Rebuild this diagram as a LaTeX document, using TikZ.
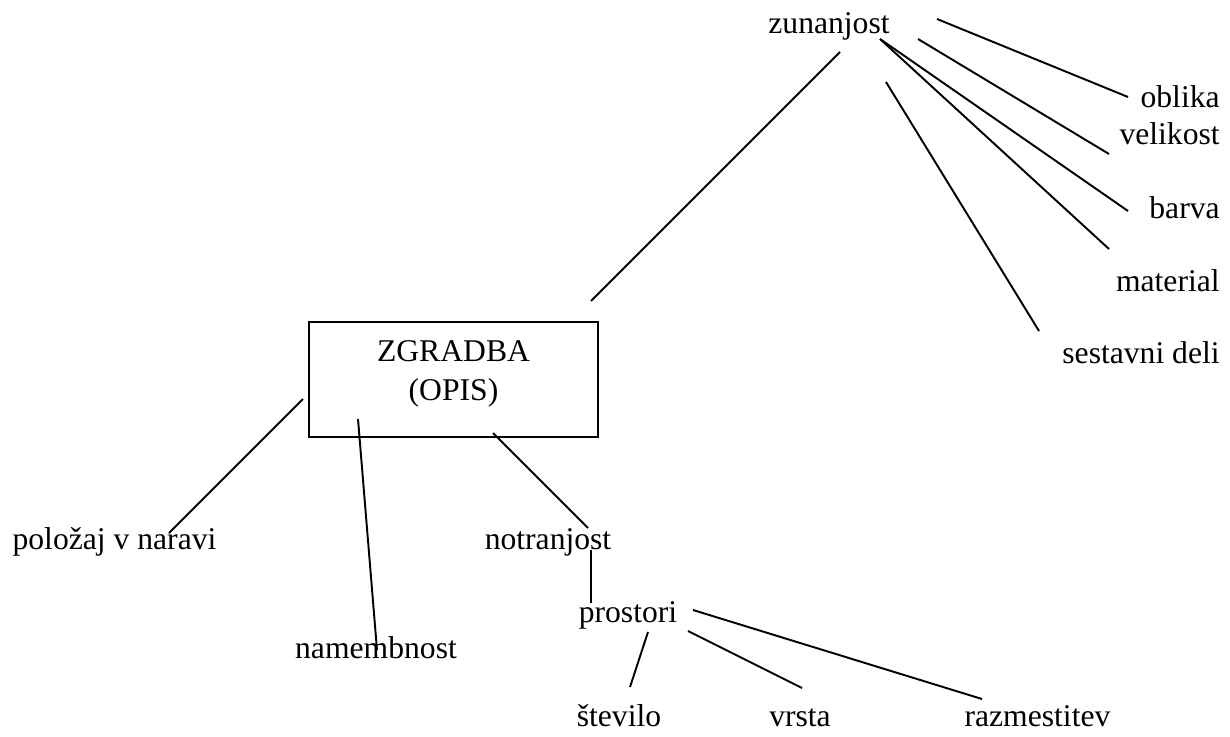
\documentclass[tikz,border=0pt]{standalone}
\usepackage{fontspec}
\setmainfont{Liberation Serif}
\usepackage{tikz}
\usetikzlibrary{positioning}
\tikzset{%
  word/.style={inner sep=0pt, anchor=base, font=\fontsize{18}{22}\selectfont},% plain label
  rword/.style={word, anchor=base east},% right column label
  mainbox/.style={draw, rectangle, line width=1.3pt, align=center,
    minimum width=5.78cm, minimum height=2.3cm, text depth=10pt,
    font=\fontsize{18}{22}\selectfont},
  branch/.style={line width=1.1pt}% stroke from a term to a sub-term
}

\begin{document}
\begin{tikzpicture}
\useasboundingbox (0,0) rectangle (24.6,-14.72);

\node[mainbox] (zgradba) at (9.07, -7.59) {ZGRADBA\\(OPIS)};

\node[word] (zun) at (16.58, -0.66) {zunanjost};
\node[rword] (oblika) at (24.4, -2.14) {oblika};
\node[rword] (velikost) at (24.4, -2.88) {velikost};
\node[rword] (barva) at (24.4, -4.36) {barva};
\node[rword] (material) at (24.4, -5.82) {material};
\node[rword] (deli) at (24.4, -7.26) {sestavni deli};

\node[word] (polozaj) at (2.29, -10.98) {položaj v naravi};
\node[word] (namen) at (7.52, -13.16) {namembnost};
\node[word] (notr) at (10.96, -10.98) {notranjost};
\node[word] (prostori) at (12.56, -12.44) {prostori};
\node[word] (stevilo) at (12.38, -14.52) {število};
\node[word] (vrsta) at (16.0, -14.52) {vrsta};
\node[word] (razm) at (20.75, -14.52) {razmestitev};

% free ends of the strokes
\coordinate (zun-ob) at (18.74, -0.38);   \coordinate (ob-in) at (22.56, -1.94);
\coordinate (zun-ve) at (18.36, -0.78);   \coordinate (ve-in) at (22.18, -3.08);
\coordinate (zun-ba) at (17.6, -0.78);    \coordinate (ba-in) at (22.56, -4.22);
                                          \coordinate (ma-in) at (22.18, -4.98);
\coordinate (zun-de) at (17.72, -1.64);   \coordinate (de-in) at (20.78, -6.62);
\coordinate (zun-zg) at (16.8, -1.04);    \coordinate (zg-in) at (11.82, -6.02);
\coordinate (zg-po) at (6.06, -7.98);     \coordinate (po-in) at (3.38, -10.66);
\coordinate (zg-na) at (7.16, -8.38);     \coordinate (na-in) at (7.54, -13.0);
\coordinate (zg-no) at (9.86, -8.66);     \coordinate (no-in) at (11.76, -10.56);
\coordinate (no-pr) at (11.82, -11.0);    \coordinate (pr-in) at (11.82, -12.06);
\coordinate (pr-st) at (12.96, -12.64);   \coordinate (st-in) at (12.6, -13.74);
\coordinate (pr-vr) at (13.76, -12.62);   \coordinate (vr-in) at (16.04, -13.76);
\coordinate (pr-ra) at (13.86, -12.2);    \coordinate (ra-in) at (19.64, -13.98);

\draw[branch] (zun-ob) -- (ob-in);
\draw[branch] (zun-ve) -- (ve-in);
\draw[branch] (zun-ba) -- (ba-in);
\draw[branch] (zun-ba) -- (ma-in);
\draw[branch] (zun-de) -- (de-in);
\draw[branch] (zun-zg) -- (zg-in);

\draw[branch] (zg-po) -- (po-in);
\draw[branch] (zg-na) -- (na-in);
\draw[branch] (zg-no) -- (no-in);
\draw[branch] (no-pr) -- (pr-in);

\draw[branch] (pr-st) -- (st-in);
\draw[branch] (pr-vr) -- (vr-in);
\draw[branch] (pr-ra) -- (ra-in);

\end{tikzpicture}
\end{document}
